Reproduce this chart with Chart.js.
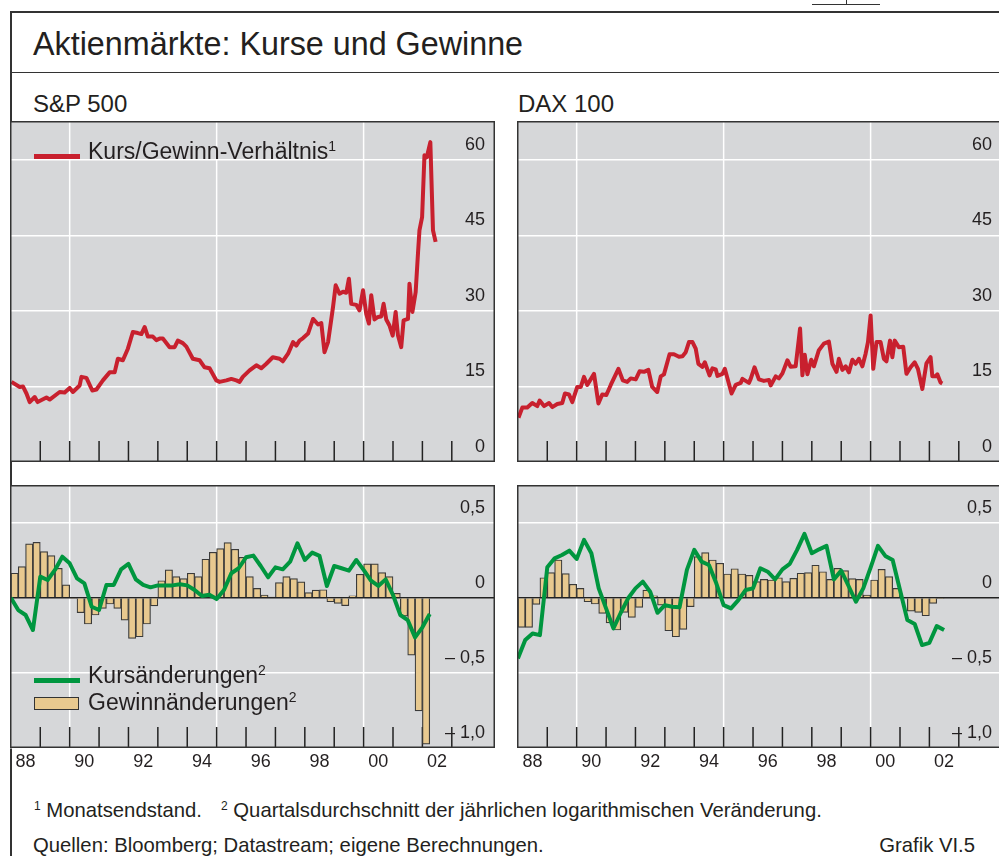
<!DOCTYPE html>
<html>
<head>
<meta charset="utf-8">
<script src="https://cdn.jsdelivr.net/npm/chart.js"></script>
<style>
  html, body { margin:0; padding:0; background:#fff; }
  body { width:999px; height:856px; position:relative; overflow:hidden;
         font-family:'Liberation Sans', Arial, sans-serif; color:#231f20; }
  .abs { position:absolute; white-space:nowrap; line-height:1; }
  .line { position:absolute; background:#333; }
  canvas { position:absolute; }
  .sup { font-size:14px; position:relative; top:-8px; }
  .fsup { font-size:12px; position:relative; top:-7px; }
</style>
</head>
<body>
<!-- frame -->
<div class="line" style="left:812px;top:4px;width:68px;height:1.2px;"></div>
<div class="line" style="left:846px;top:0px;width:1px;height:5px;"></div>
<div class="line" style="left:10px;top:11px;width:995px;height:1.5px;"></div>
<div class="line" style="left:10px;top:11px;width:1.5px;height:850px;"></div>
<div class="line" style="left:10px;top:71.5px;width:995px;height:1.5px;"></div>

<div class="abs" style="left:33px;top:27.7px;font-size:32.3px;">Aktienmärkte: Kurse und Gewinne</div>
<div class="abs" style="left:33px;top:91.5px;font-size:24px;">S&amp;P 500</div>
<div class="abs" style="left:518px;top:91.5px;font-size:24px;">DAX 100</div>

<canvas id="spTop" width="485" height="341" style="left:10px;top:121px;"></canvas>
<canvas id="daxTop" width="485" height="341" style="left:517px;top:121px;"></canvas>
<canvas id="spBot" width="485" height="291" style="left:10px;top:485px;"></canvas>
<canvas id="daxBot" width="485" height="291" style="left:517px;top:485px;"></canvas>

<!-- legends -->
<div style="position:absolute;left:34px;top:154px;width:46px;height:5px;background:#c8202e;"></div>
<div class="abs" style="left:88px;top:139.8px;font-size:23px;">Kurs/Gewinn-Verhältnis<span class="sup">1</span></div>
<div style="position:absolute;left:34px;top:678px;width:46px;height:5px;background:#00963f;"></div>
<div class="abs" style="left:88px;top:663.8px;font-size:23px;">Kursänderungen<span class="sup">2</span></div>
<div style="position:absolute;left:34px;top:697px;width:45px;height:13px;background:#e8c98f;border:1.2px solid #333;box-sizing:border-box;"></div>
<div class="abs" style="left:88px;top:690.5px;font-size:23px;">Gewinnänderungen<span class="sup">2</span></div>

<!-- footnotes -->
<div class="abs" style="left:34px;top:800px;font-size:20.3px;"><span class="fsup">1</span>&nbsp;Monatsendstand.</div>
<div class="abs" style="left:221px;top:800px;font-size:20.3px;"><span class="fsup">2</span>&nbsp;Quartalsdurchschnitt der jährlichen logarithmischen Veränderung.</div>
<div class="abs" style="left:33px;top:835px;font-size:20.3px;">Quellen: Bloomberg; Datastream; eigene Berechnungen.</div>
<div class="abs" style="right:24px;top:835px;font-size:20.3px;">Grafik VI.5</div>

<script>
// ---------------- DATA ----------------
// Price/earnings ratio, month-end (decimal year dates)
const spPEDates = [
  1988.02,1988.30,1988.41,1988.53,1988.64,1988.81,1988.91,
  1989.21,1989.32,1989.66,1989.83,
  1990.00,1990.11,1990.34,1990.40,1990.57,1990.77,1990.91,
  1991.13,1991.36,1991.53,1991.64,1991.81,1991.98,
  1992.15,1992.32,1992.44,1992.55,1992.66,1992.83,1992.95,
  1993.06,1993.17,1993.40,1993.57,1993.68,1993.85,1993.97,
  1994.19,1994.42,1994.59,1994.76,1994.99,
  1995.10,1995.33,1995.50,1995.67,1995.78,1995.89,
  1996.12,1996.35,1996.52,1996.69,1996.91,
  1997.14,1997.25,1997.43,1997.60,1997.71,1997.82,1997.94,
  1998.11,1998.28,1998.45,1998.56,1998.67,1998.79,1998.96,
  1999.05,1999.18,1999.30,1999.41,1999.50,1999.58,1999.75,1999.86,1999.98,
  2000.09,2000.18,2000.26,2000.37,2000.49,2000.60,2000.68,2000.77,2000.88,2000.99,
  2001.09,2001.17,2001.28,2001.36,2001.51,2001.56,2001.66,2001.77,2001.85,2001.90,2001.99,
  2002.07,2002.15,2002.27,2002.36,2002.45
];
const spPE = [
  15.9,14.9,15.0,13.6,11.9,12.9,11.9,
  12.8,12.4,13.9,13.8,
  14.7,13.9,15.2,16.9,16.7,14.2,14.4,
  16.2,17.8,17.8,20.5,20.2,22.5,
  25.8,25.6,25.4,26.8,24.9,24.9,24.2,
  24.5,24.5,22.8,22.8,24.1,23.6,22.9,
  20.5,20.2,18.8,18.6,16.2,
  15.9,16.2,16.5,16.2,15.9,16.9,
  18.2,19.2,18.6,19.5,20.8,
  20.5,20.0,21.5,23.8,23.1,24.1,24.6,
  25.5,28.4,27.3,27.6,21.8,23.8,30.8,
  35.1,33.4,33.8,33.6,36.4,31.4,31.2,30.1,34.1,
  29.4,27.5,33.1,28.3,28.8,28.9,31.4,28.3,27.1,25.1,
  29.8,25.1,22.8,28.1,28.4,35.4,29.8,33.7,41.4,46.0,48.6,
  60.9,60.5,63.5,46.0,43.7
];
const daxPEDates = [
  1988.02,1988.15,1988.32,1988.49,1988.66,1988.74,1988.89,
  1989.06,1989.17,1989.34,1989.51,1989.60,1989.74,1989.85,
  1990.02,1990.14,1990.25,1990.36,1990.59,1990.74,1990.87,
  1991.01,1991.16,1991.42,1991.57,1991.72,1991.84,
  1992.01,1992.14,1992.29,1992.44,1992.57,1992.74,1992.86,1992.97,
  1993.16,1993.31,1993.48,1993.60,1993.71,1993.82,1993.94,
  1994.05,1994.14,1994.28,1994.36,1994.52,1994.62,1994.73,1994.79,1994.96,
  1995.04,1995.27,1995.41,1995.58,1995.64,1995.86,1995.92,
  1996.05,1996.20,1996.37,1996.54,1996.60,1996.77,1996.88,
  1997.00,1997.17,1997.28,1997.45,1997.60,1997.68,1997.76,1997.85,1997.98,
  1998.07,1998.24,1998.41,1998.58,1998.70,1998.84,1998.92,
  1999.04,1999.15,1999.26,1999.38,1999.49,1999.60,1999.72,1999.83,1999.91,
  2000.00,2000.09,2000.20,2000.34,2000.45,2000.54,2000.66,2000.74,2000.82,2000.96,
  2001.11,2001.22,2001.36,2001.50,2001.61,2001.76,2001.90,
  2002.04,2002.10,2002.21,2002.27,2002.38,2002.44
];
const daxPE = [
  8.8,10.8,10.8,11.7,11.1,12.2,11.1,
  11.7,10.9,11.5,11.7,13.6,13.4,11.9,
  14.9,14.9,16.9,15.3,17.5,11.6,13.4,
  13.3,15.3,18.5,16.2,15.9,16.6,
  16.4,18.0,17.9,18.3,14.9,13.9,17.0,17.4,
  21.4,21.4,20.9,21.0,21.8,23.8,23.8,
  22.5,19.5,18.9,19.8,17.2,18.6,18.4,17.1,17.5,
  18.5,13.6,15.3,15.7,16.5,15.7,16.5,
  18.8,16.4,16.1,16.3,15.2,17.0,16.6,
  17.6,20.2,18.9,19.0,26.5,17.2,21.3,17.4,20.3,
  19.0,22.2,23.5,23.9,19.5,17.9,20.5,
  18.3,19.0,17.8,20.3,19.5,20.5,19.0,21.5,23.8,
  29.1,18.5,23.8,23.8,20.5,20.0,24.1,20.8,24.1,22.8,
  22.9,17.5,18.8,19.8,18.5,14.5,19.6,
  20.8,17.0,17.0,17.4,15.8,15.6
];

// Quarterly series from 1988 Q1 (bars: earnings changes, line: price changes)
const quarterStart = 1988;
const spEarnings = [
  0.163,0.207,0.358,0.369, 0.307,0.28,0.196,0.085, -0.005,-0.1,-0.175,-0.115,
  -0.071,-0.042,-0.071,-0.149, -0.271,-0.26,-0.175,-0.055, 0.113,0.185,0.14,0.127,
  0.163,0.14,0.256,0.302, 0.327,0.367,0.322,0.269, 0.14,0.062,0.018,0.005,
  0.1,0.14,0.127,0.105, 0.034,0.05,0.053,-0.027, -0.038,-0.053,0.013,0.156,
  0.225,0.225,0.167,0.14, 0.029,-0.122,-0.382,-0.753, -0.975
];
const spPrices = [
  0.0,-0.082,-0.115,-0.215, 0.14,0.118,0.185,0.273, 0.229,0.129,0.096,-0.06,
  -0.082,0.085,0.085,0.189, 0.225,0.122,0.085,0.069, 0.082,0.082,0.082,0.089,
  0.082,0.051,0.011,0.02, -0.009,0.051,0.163,0.196, 0.269,0.28,0.211,0.136,
  0.202,0.189,0.24,0.362, 0.251,0.3,0.278,0.078, 0.211,0.196,0.18,0.251,
  0.185,0.113,0.078,0.122, 0.018,-0.115,-0.149,-0.264, -0.197,-0.109
];
const daxEarnings = [
  -0.198,-0.198,-0.044,0.133, 0.167,0.251,0.16,0.089, 0.062,-0.027,-0.042,-0.104,
  -0.167,-0.215,-0.098,-0.131, -0.064,0.051,0.013,-0.049, -0.22,-0.26,-0.211,-0.06,
  0.273,0.3,0.251,0.229, 0.158,0.193,0.158,0.149, 0.107,0.122,0.118,0.133,
  0.107,0.129,0.163,0.167, 0.216,0.173,0.122,0.196, 0.18,0.127,0.122,0.018,
  0.118,0.189,0.14,0.062, 0.0,-0.089,-0.098,-0.12, -0.038,-0.006
];
const daxPrices = [
  -0.404,-0.282,-0.238,-0.249, 0.202,0.262,0.284,0.313, 0.258,0.385,0.296,0.062,
  -0.071,-0.204,-0.1,-0.004, 0.062,0.107,0.04,-0.1, -0.049,-0.06,-0.064,0.185,
  0.318,0.24,0.218,0.096, -0.049,-0.071,-0.016,0.051, 0.062,0.196,0.173,0.122,
  0.189,0.225,0.318,0.425, 0.296,0.322,0.345,0.122, 0.18,0.078,-0.027,0.062,
  0.2,0.345,0.278,0.251, 0.051,-0.149,-0.175,-0.315, -0.3,-0.189,-0.215
];

// Axis ticks / labels
const peTicks = [0, 15, 30, 45, 60];
const chgTicks = [-1.0, -0.5, 0, 0.5];
const chgTickLabels = ['\u2013 1,0', '\u2013 0,5', '0', '0,5'];
const yearLabelPos = [1988.5, 1990.5, 1992.5, 1994.5, 1996.5, 1998.5, 2000.5, 2002.5];
const yearLabels = ['88', '90', '92', '94', '96', '98', '00', '02'];
const gridYears = [1990, 1995, 2000];
const tickYears = [1989,1990,1991,1992,1993,1994,1995,1996,1997,1998,1999,2000,2001,2002,2003];

// ---------------- STYLE ----------------
const X_MIN = 1987.97, X_MAX = 2004.47;
const FONT = "'Liberation Sans', Arial, sans-serif";
const TXT = '#231f20';
const PANEL_BG = '#d6d7d9';
const RED = '#c8202e', GREEN = '#00963f', TAN = '#e8c98f';

const panelPlugin = {
  id: 'panel',
  beforeDraw(chart) {
    const {ctx, chartArea: a} = chart;
    ctx.save();
    ctx.fillStyle = PANEL_BG;
    ctx.fillRect(a.left, a.top, a.right - a.left, a.bottom - a.top);
    ctx.restore();
  },
  beforeDatasetsDraw(chart, args, opts) {
    const {ctx, chartArea: a} = chart;
    const x = chart.scales.x, y = chart.scales.y;
    ctx.save();
    ctx.strokeStyle = '#ffffff';
    ctx.lineWidth = 1.5;
    gridYears.forEach(g => {
      const px = x.getPixelForValue(g);
      ctx.beginPath(); ctx.moveTo(px, a.top); ctx.lineTo(px, a.bottom); ctx.stroke();
    });
    if (opts.zero) {
      const py = y.getPixelForValue(0);
      ctx.strokeStyle = '#222';
      ctx.lineWidth = 1.6;
      ctx.beginPath(); ctx.moveTo(a.left, py); ctx.lineTo(a.right, py); ctx.stroke();
    }
    ctx.strokeStyle = '#222';
    ctx.lineWidth = 1.5;
    tickYears.forEach(t => {
      const px = x.getPixelForValue(t);
      ctx.beginPath(); ctx.moveTo(px, a.bottom); ctx.lineTo(px, a.bottom - 21); ctx.stroke();
    });
    ctx.restore();
  },
  afterDraw(chart) {
    const {ctx, chartArea: a} = chart;
    ctx.save();
    ctx.strokeStyle = '#333';
    ctx.lineWidth = 1.5;
    ctx.strokeRect(a.left + 0.75, a.top + 0.75, a.right - a.left - 1.5, a.bottom - a.top - 1.5);
    ctx.restore();
  }
};

function yAxis(min, max, ticks, labels) {
  return {
    type: 'linear', position: 'right', min: min, max: max,
    afterBuildTicks: s => { s.ticks = ticks.map(v => ({value: v})); },
    afterFit: s => { s.width = 0; s.paddingTop = 0; s.paddingBottom = 0; },
    border: {display: false},
    grid: {
      drawTicks: false, lineWidth: 1.5,
      color: c => (c.tick && c.tick.value === 0) ? 'rgba(0,0,0,0)' : '#ffffff'
    },
    ticks: {
      mirror: true, padding: -10, labelOffset: -15,
      color: TXT, font: {family: FONT, size: 18},
      callback: (v) => labels ? labels[ticks.indexOf(v)] : String(v)
    }
  };
}

function xAxis(showLabels) {
  const ax = {
    type: 'linear', min: X_MIN, max: X_MAX, offset: false,
    display: showLabels, position: 'bottom',
    grid: {display: false, drawTicks: false, offset: false},
    border: {display: false}
  };
  if (showLabels) {
    ax.afterBuildTicks = s => { s.ticks = yearLabelPos.map(v => ({value: v})); };
    ax.afterFit = s => { s.height = 28; s.paddingLeft = 0; s.paddingRight = 0; };
    ax.ticks = {
      autoSkip: false, maxRotation: 0, minRotation: 0, padding: 3,
      color: TXT, font: {family: FONT, size: 18},
      callback: (v) => yearLabels[yearLabelPos.indexOf(v)]
    };
  }
  return ax;
}

const common = {
  responsive: false, animation: false, devicePixelRatio: 1,
  layout: {padding: 0, autoPadding: false},
  events: [],
  plugins: {legend: {display: false}, tooltip: {enabled: false}}
};

function peChart(id, dates, vals) {
  const n = Math.min(dates.length, vals.length);
  const data = [];
  for (let i = 0; i < n; i++) data.push({x: dates[i], y: vals[i]});
  new Chart(document.getElementById(id), {
    type: 'line',
    data: {datasets: [{
      data: data, borderColor: RED, borderWidth: 4, pointRadius: 0,
      tension: 0, borderJoinStyle: 'round', borderCapStyle: 'butt'
    }]},
    options: Object.assign({}, common, {
      scales: {x: xAxis(false), y: yAxis(0, 67.7, peTicks, null)},
      plugins: Object.assign({}, common.plugins, {panel: {zero: false}})
    }),
    plugins: [panelPlugin]
  });
}

function chgChart(id, earnings, prices) {
  const bars = earnings.map((v, i) => ({x: quarterStart + (i + 0.5) / 4, y: v}));
  const line = prices.map((v, i) => ({x: quarterStart + i / 4, y: v}));
  new Chart(document.getElementById(id), {
    type: 'bar',
    data: {datasets: [
      {type: 'line', data: line, borderColor: GREEN, borderWidth: 4, pointRadius: 0,
       tension: 0, borderJoinStyle: 'round', order: 0},
      {type: 'bar', data: bars, backgroundColor: TAN, borderColor: '#3a3a3a',
       borderWidth: 1.2, barPercentage: 1, categoryPercentage: 1, order: 1}
    ]},
    options: Object.assign({}, common, {
      scales: {x: xAxis(true), y: yAxis(-1.0, 0.75, chgTicks, chgTickLabels)},
      plugins: Object.assign({}, common.plugins, {panel: {zero: true}})
    }),
    plugins: [panelPlugin]
  });
}

peChart('spTop', spPEDates, spPE);
peChart('daxTop', daxPEDates, daxPE);
chgChart('spBot', spEarnings, spPrices);
chgChart('daxBot', daxEarnings, daxPrices);
</script>
</body>
</html>
